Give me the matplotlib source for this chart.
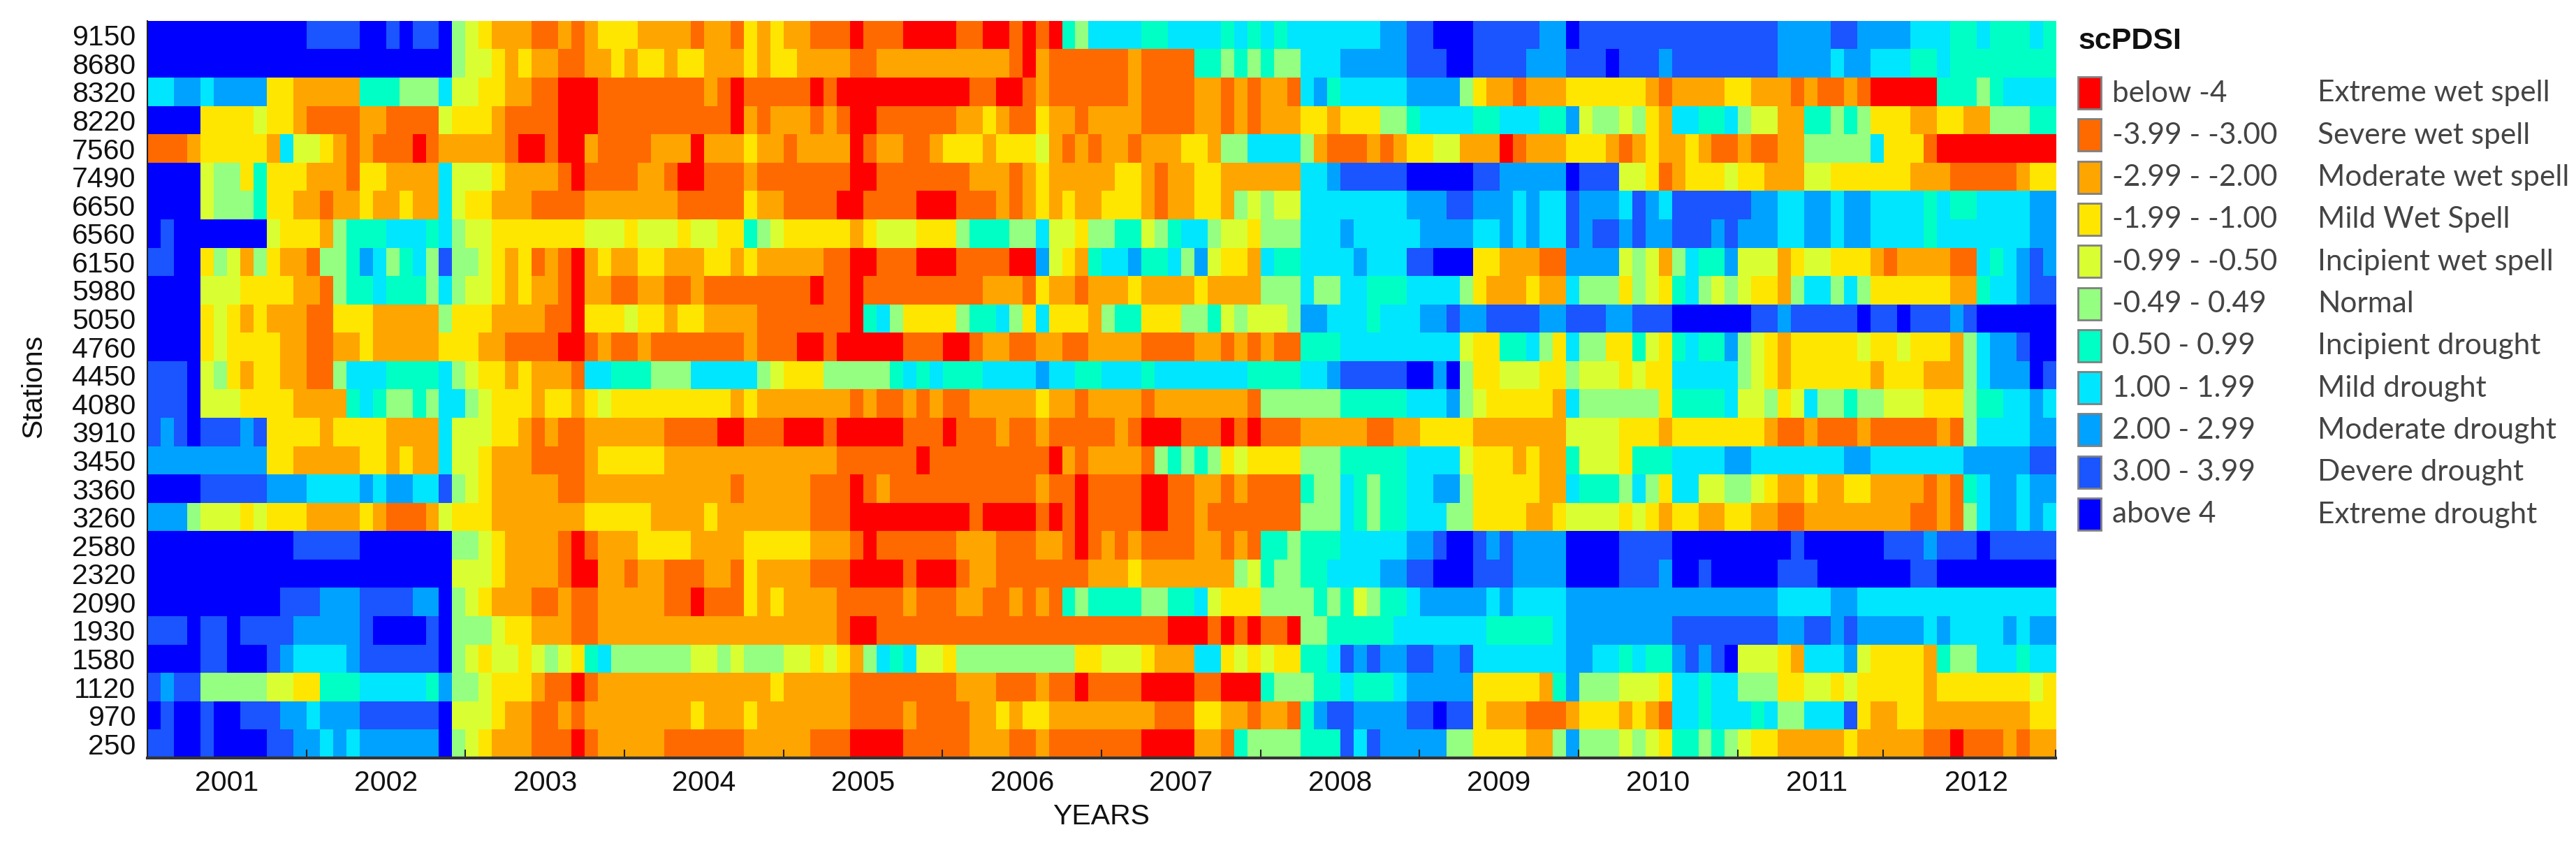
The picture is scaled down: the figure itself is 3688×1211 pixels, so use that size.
import numpy as np
import matplotlib
matplotlib.use("Agg")
import matplotlib.pyplot as plt
from matplotlib.colors import ListedColormap
from matplotlib.patches import Rectangle

# scPDSI class of every month, one block per year (2001..2012), hex digit = class index
s9150 = "AAAAAAAAAAAA 9999AA9A99A5 432221121233 322221221323 221110111000 011001010657 777667777676 767777777889 9AAA9999988A 999999999999 999888899888 877766766676"
s8680 = "AAAAAAAAAAAA AAAAAAAAAAA5 443232211223 233233222323 322221122222 222221021111 112111166565 655777888889 99AA99998889 99A999899999 999888878877 766766666666"
s8320 = "778878888332 222266655574 433221100011 111111210111 110100000000 001100121111 112111122121 221786777778 888532212223 333332122223 322212112100 000666567777"
s8220 = "AAAA33334332 111122111143 332111100011 111111110212 221210011111 122321132212 222111122121 222332333556 777766777668 455453277667 544226656533 322332255566"
s7560 = "111233333274 432121110122 222100100211 112220222322 122220122112 333233342121 221222332557 777521112123 344222012223 332123223211 211225555573 331000000000"
s7490 = "AAAA45536333 222133222274 443222210111 122100111211 111110011111 112221232222 233212233222 22277899999A AAAA9988888A 999443123334 332224433333 322211111233"
s6650 = "AAAA45556332 212232232274 332221111222 222211111322 111100111100 011121232322 333212233254 544777777778 889988878779 888798799999 988778878877 776766777788"
s6560 = "A9AAAAAAA433 325666777675 443333333444 344434433654 333332344433 356665574435 566456775443 555777877777 888877878779 899898899989 888778878877 776777777788"
s6150 = "99AA35425322 155687567595 543231210232 233222332322 222110011100 011110084326 778667584332 766777787779 9AAA33222118 888454257668 444234433321 222211767898"
s5980 = "AAAA44433332 215667666575 443232210221 122112111111 110110111111 111222132212 223222232222 555755776667 777532223227 555354367545 433257757533 333322677899"
s5050 = "AAAA34323222 113332222253 332222110333 433233222211 111110675333 356675373332 566333556454 445887776777 889889999889 9988999AAAAA A99899999A99 A99989AAAAAA"
s4760 = "AAAA34333322 112232222233 322111100121 121111111211 100100000111 001221122112 222111122121 211666777777 777433667537 553364367668 543233333433 4333257889AA"
s4450 = "999A45323322 115777666675 433232221776 665557777754 333555556767 666777787766 777677777776 66677899999A A8A533444335 444343377777 543233333323 3322257888A9"
s4080 = "999A44433332 222676556577 543332332343 333333332322 222221211212 112222232212 222122222221 555555666667 778543333327 555555366667 445347556554 443335667787"
s3910 = "989A99989333 323333222274 443321211222 222111100111 000100000111 011121121111 121000111010 111222221122 333322222224 444333233333 332112111211 111215777788"
s3450 = "888888888332 222233232274 432221111233 333222222222 222211111101 111111110212 222156565343 333555666667 777433323226 444366677778 877777778877 777778888899"
s3360 = "AAAA99999888 777787887795 432222211222 222222221222 221110121111 111111121101 111001122121 111655765667 788533333227 666575377445 543223223322 221216788788"
s3260 = "888544434333 222232111243 332222222333 332222322222 221110000000 001000010101 111001121111 111555765667 775533332234 444343233223 322112222222 211215788787"
s2580 = "AAAAAAAAAAA9 9999AAAAAAA5 543222210122 233332222333 332221011111 122211122101 212111122121 665666777778 89AA9898888A AAA9999AAAAA AAAA9AAAAAA9 998999A99999"
s2320 = "AAAAAAAAAAAA AAAAAAAAAAA4 443222210022 122111221322 221110000100 012211111112 223222222254 655667777889 9AAA9998888A AAA9998AA9AA AAA999AAAAAA A99AAAAAAAAA"
s2090 = "AAAAAAAAAA99 9888999988A5 432221121122 222110111323 222211111211 122112121656 666556674333 555565645667 888887877778 888888888888 888777788777 777777777777"
s1930 = "999A99A99998 88889AAAA9A5 554332221122 222222222222 222210011111 111111111111 111110001010 110556666677 777776666678 888888899999 999889989888 887877778788"
s1580 = "AAAA99AAA987 7778999999A5 434434543675 555554454555 443432576744 355555555533 444322277343 433667989889 988977777778 87767668989A 444327778433 332655777677"
s1120 = "989955555443 366677777685 543332110122 222222222223 222221111111 122211121101 111000011000 655566766678 888833333268 555444377677 555334434333 332333333343"
s970 = "A9AA9AA99988 7888999999A4 443221121222 222223222322 222221111211 112232332222 222211133221 221689988889 9A9932221112 333232177677 767557779322 332222222233"
s250 = "99AA9AAAA998 8787888888A5 432221110122 222111111222 221110000111 112221121111 111000022165 555666979888 885533332258 555454366565 433222223222 221101112122"

stations = ["9150", "8680", "8320", "8220", "7560", "7490", "6650", "6560", "6150", "5980", "5050", "4760", "4450",
            "4080", "3910", "3450", "3360", "3260", "2580", "2320", "2090", "1930", "1580", "1120", "970", "250"]
station_rows = [s9150, s8680, s8320, s8220, s7560, s7490, s6650, s6560, s6150, s5980, s5050, s4760, s4450,
                s4080, s3910, s3450, s3360, s3260, s2580, s2320, s2090, s1930, s1580, s1120, s970, s250]
years = [str(y) for y in range(2001, 2013)]
year_ticks = [12, 24, 36, 48, 60, 72, 84, 96, 108, 120, 131, 144]

class_colors = ["#ff0000", "#ff6a00", "#ffa500", "#ffe600", "#d9ff33", "#94ff80",
                "#00ffc4", "#00e6ff", "#00a2ff", "#1a55ff", "#0000ff"]
class_ranges = ["below -4", "-3.99 - -3.00", "-2.99 - -2.00", "-1.99 - -1.00", "-0.99 - -0.50", "-0.49 - 0.49",
                "0.50 - 0.99", "1.00 - 1.99", "2.00 - 2.99", "3.00 - 3.99", "above 4"]
class_names = ["Extreme wet spell", "Severe wet spell", "Moderate wet spell", "Mild Wet Spell", "Incipient wet spell",
               "Normal", "Incipient drought", "Mild drought", "Moderate drought", "Devere drought", "Extreme drought"]

W, H = 3688, 1211
grid = np.array([[int(c, 16) for c in row.replace(" ", "")] for row in station_rows])

fig = plt.figure(figsize=(W / 100, H / 100), dpi=100, facecolor="white")
plt.rcParams["font.family"] = ["Liberation Sans", "DejaVu Sans"]

# main heat map
ax = fig.add_axes([211 / W, 1 - 1085 / H, (2943 - 211) / W, (1085 - 30) / H])
ax.imshow(grid, cmap=ListedColormap(class_colors), vmin=-0.5, vmax=10.5, aspect="auto",
          interpolation="nearest", extent=[0, 144, 26, 0])

ax.set_xticks(year_ticks)
ax.set_xticklabels([])
ax.set_xticks([i * 12 + 6 for i in range(12)], minor=True)
ax.set_xticklabels(years, minor=True, fontsize=29.5, color="#111111")
ax.tick_params(axis="x", which="major", direction="in", length=9, width=1.5, color="#222222")
ax.tick_params(axis="x", which="minor", length=0, pad=12)

ax.set_yticks(np.arange(26) + 0.5)
ax.set_yticklabels(stations, fontsize=29.5, color="#111111")
ax.tick_params(axis="y", length=0, pad=12)

for side in ["top", "right"]:
    ax.spines[side].set_visible(False)
ax.spines["left"].set_linewidth(1.5)
ax.spines["left"].set_color("#222222")
ax.spines["bottom"].set_linewidth(3)
ax.spines["bottom"].set_color("#333333")

fig.text(1577 / W, 1 - 1169 / H, "YEARS", fontsize=29.5, ha="center", va="center", color="#111111")
fig.text(48 / W, 1 - 553 / H, "Stations", fontsize=29.5, rotation=90, ha="center", va="center", color="#111111")

# legend
fig.text(2976 / W, 1 - 59 / H, "scPDSI", fontsize=31, fontweight="bold", ha="left", va="center", color="#111111")
for i in range(len(class_colors)):
    top = 110 + i * 60.3
    fig.add_artist(Rectangle((2975 / W, 1 - (top + 46) / H), 33 / W, 46 / H, transform=fig.transFigure,
                             facecolor=class_colors[i], edgecolor="#808080", linewidth=2))
    fig.text(3024 / W, 1 - (top + 35.5) / H, class_ranges[i], fontsize=30.5, family="Lato", ha="left", va="baseline", color="#444444")
    fig.text(3318 / W, 1 - (top + 35.5) / H, class_names[i], fontsize=30.5, family="Lato", ha="left", va="baseline", color="#444444")

fig.savefig("out.png", dpi=100, facecolor="white")
